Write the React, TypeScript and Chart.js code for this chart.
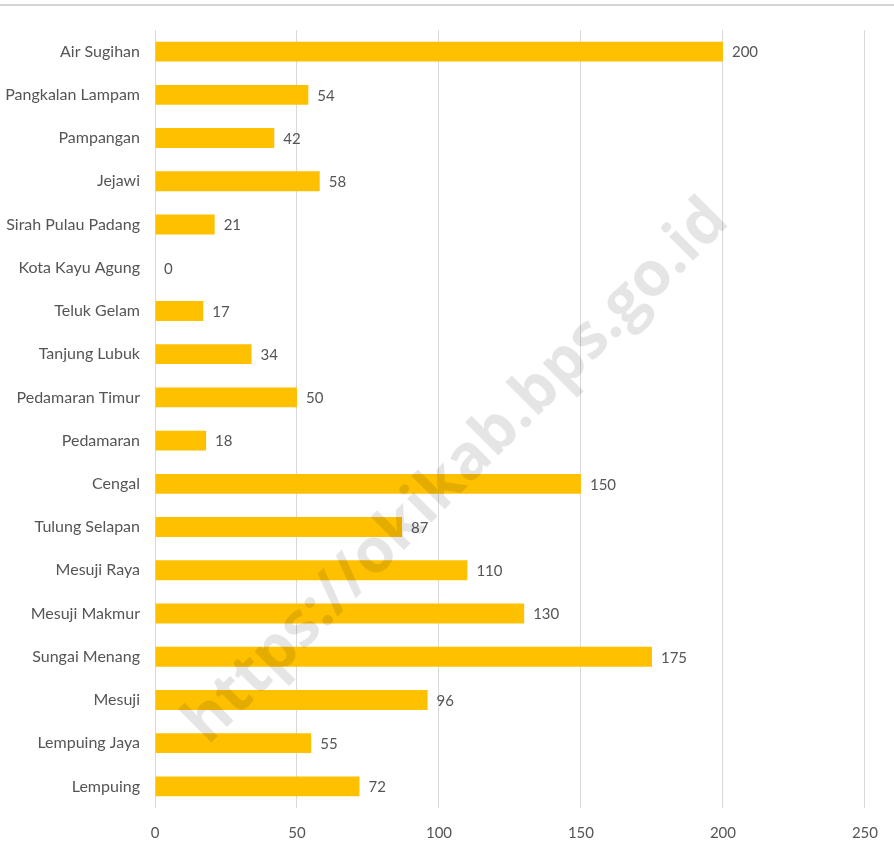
import React, { useEffect, useRef } from "react";
import { Chart, registerables } from "chart.js";

Chart.register(...registerables);

const categories = [
  "Air Sugihan",
  "Pangkalan Lampam",
  "Pampangan",
  "Jejawi",
  "Sirah Pulau Padang",
  "Kota Kayu Agung",
  "Teluk Gelam",
  "Tanjung Lubuk",
  "Pedamaran Timur",
  "Pedamaran",
  "Cengal",
  "Tulung Selapan",
  "Mesuji Raya",
  "Mesuji Makmur",
  "Sungai Menang",
  "Mesuji",
  "Lempuing Jaya",
  "Lempuing",
];
const values = [200, 54, 42, 58, 21, 0, 17, 34, 50, 18, 150, 87, 110, 130, 175, 96, 55, 72];
const xTicks = [0, 50, 100, 150, 200, 250];
const watermark = "https://okikab.bps.go.id";

const FONT = "Lato, 'Noto Sans', sans-serif";
const TEXT = "#555555";

export default function App() {
  const ref = useRef<HTMLCanvasElement | null>(null);
  useEffect(() => {
    if (!ref.current) return;
    const labelsPlugin = {
      id: "valueLabels",
      afterDatasetsDraw(chart: any) {
        const ctx = chart.ctx;
        const meta = chart.getDatasetMeta(0);
        ctx.save();
        ctx.font = `15px ${FONT}`;
        ctx.fillStyle = TEXT;
        ctx.textAlign = "left";
        ctx.textBaseline = "middle";
        meta.data.forEach((bar: any, i: number) => {
          ctx.fillText(String(values[i]), bar.x + 9, bar.y + 1);
        });
        ctx.restore();
      },
    };
    const decoPlugin = {
      id: "deco",
      beforeDraw(chart: any) {
        const ctx = chart.ctx;
        ctx.save();
        ctx.fillStyle = "#ffffff";
        ctx.fillRect(0, 0, chart.width, chart.height);
        ctx.strokeStyle = "#d4d4d4";
        ctx.lineWidth = 2;
        ctx.beginPath();
        ctx.moveTo(0, 5);
        ctx.lineTo(chart.width, 5);
        ctx.stroke();
        ctx.restore();
      },
      afterDraw(chart: any) {
        const ctx = chart.ctx;
        ctx.save();
        ctx.font = `bold 100px 'Open Sans', ${FONT}`;
        const w = ctx.measureText(watermark).width;
        const size = (100 * 740) / w;
        ctx.font = `bold ${size}px 'Open Sans', ${FONT}`;
        ctx.translate(457, 472);
        ctx.rotate((-45 * Math.PI) / 180);
        ctx.fillStyle = "rgba(0,0,0,0.1)";
        ctx.textAlign = "center";
        ctx.textBaseline = "middle";
        ctx.fillText(watermark, 0, 0);
        ctx.restore();
      },
    };
    const chart = new Chart(ref.current, {
      type: "bar",
      data: {
        labels: categories,
        datasets: [
          {
            data: values,
            backgroundColor: "#FFC000",
            borderWidth: 0,
            categoryPercentage: 1,
            barPercentage: 0.46,
          },
        ],
      },
      options: {
        indexAxis: "y",
        animation: false,
        responsive: true,
        maintainAspectRatio: false,
        layout: { padding: { top: 30, right: 28, left: 0, bottom: 0 } },
        plugins: { legend: { display: false }, tooltip: { enabled: false } },
        scales: {
          x: {
            min: 0,
            max: 250,
            afterBuildTicks: (axis: any) => {
              axis.ticks = xTicks.map((v) => ({ value: v }));
            },
            grid: { color: "#d9d9d9", lineWidth: 1, drawTicks: false },
            border: { display: false },
            ticks: { color: TEXT, font: { family: FONT, size: 15 }, padding: 16 },
            afterFit: (axis: any) => {
              axis.height = 38;
            },
          },
          y: {
            grid: { display: false, drawTicks: false },
            border: { display: false },
            ticks: { color: TEXT, font: { family: FONT, size: 16 }, padding: 15, autoSkip: false },
            afterFit: (axis: any) => {
              axis.width = 155;
            },
          },
        },
      },
      plugins: [labelsPlugin, decoPlugin],
    });
    return () => chart.destroy();
  }, []);
  return (
    <div style={{ position: "absolute", left: 0, top: 0, width: 894, height: 846, background: "#fff" }}>
      <canvas ref={ref} />
    </div>
  );
}
